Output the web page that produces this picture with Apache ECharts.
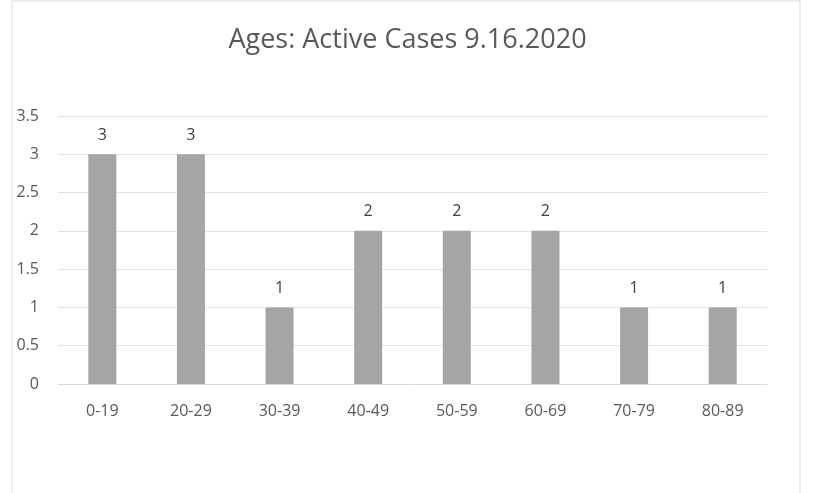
<!DOCTYPE html>
<html><head><meta charset="utf-8">
<script src="https://cdn.jsdelivr.net/npm/echarts@6/dist/echarts.min.js"></script>
<style>html,body{margin:0;padding:0;background:#fff}#c{width:815px;height:493px}</style>
</head><body><div id="c"></div>
<script>
const categories = ['0-19','20-29','30-39','40-49','50-59','60-69','70-79','80-89'];
const activeCases = [3,3,1,2,2,2,1,1];
const yMin = 0, yMax = 3.5, yStep = 0.5;

const chart = echarts.init(document.getElementById('c'));
chart.setOption({
  animation: false,
  backgroundColor: '#fff',
  graphic: [{type:'rect', shape:{x:12,y:1,width:788,height:500}, style:{fill:'none', stroke:'#d9d9d9', lineWidth:1}, silent:true}],
  title: {text:'Ages: Active Cases 9.16.2020', left:'center', top:22,
    textStyle:{fontFamily:'Open Sans', fontSize:27, fontWeight:'normal', color:'#595959'}},
  grid: {left:58, right:48, top:116, bottom:109},
  xAxis: {type:'category', data:categories,
    axisLine:{lineStyle:{color:'#d9d9d9'}}, axisTick:{show:false},
    axisLabel:{color:'#595959', fontFamily:'Open Sans', fontSize:16, margin:19}},
  yAxis: {type:'value', min:yMin, max:yMax, interval:yStep,
    axisLine:{show:false}, axisTick:{show:false},
    splitLine:{lineStyle:{color:'#e3e3e3'}},
    axisLabel:{color:'#595959', fontFamily:'Open Sans', fontSize:16, margin:19}},
  series: [{type:'bar', data:activeCases, barWidth:'31.6%',
    itemStyle:{color:'#a5a5a5'},
    label:{show:true, position:'top', distance:11, color:'#404040', fontFamily:'Open Sans', fontSize:16}}]
});
</script></body></html>
